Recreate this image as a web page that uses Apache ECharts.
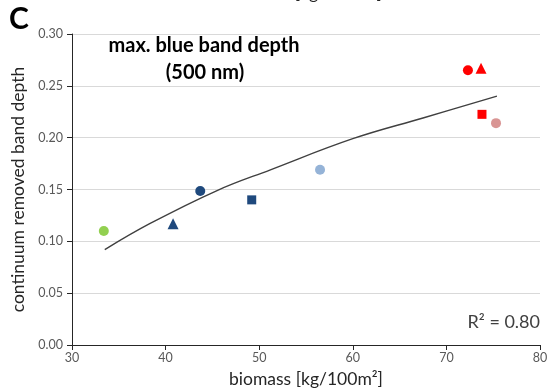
<!DOCTYPE html>
<html>
<head>
<meta charset="utf-8">
<script src="https://cdn.jsdelivr.net/npm/echarts@6/dist/echarts.min.js"></script>
<style>
  html, body { margin: 0; padding: 0; background: #fff; }
  #chart { width: 549px; height: 391px; }
</style>
</head>
<body>
<div id="chart"></div>
<script>
// measured samples
const biomass   = [33.4, 40.8, 43.7, 49.2, 56.5, 72.3, 73.7, 73.8, 75.3];
const bandDepth = [0.110, 0.117, 0.1485, 0.140, 0.169, 0.265, 0.267, 0.2225, 0.214];

// trend line
const trendX = [33.5, 38.3, 45.5, 51.2, 60.0, 67.5, 75.4];
const trendY = [0.092, 0.117, 0.149, 0.169, 0.199, 0.219, 0.240];

const xTicks = [30, 40, 50, 60, 70, 80];
const yTicks = [0.00, 0.05, 0.10, 0.15, 0.20, 0.25, 0.30];
const r2Label = 'R² = 0.80';

// marker look per sample
const shapes = ['circle', 'triangle', 'circle', 'rect', 'circle', 'circle', 'triangle', 'rect', 'circle'];
const colors = ['#92d050', '#1f497d', '#1f497d', '#1f497d', '#95b3d7', '#ff0000', '#ff0000', '#ff0000', '#d99594'];

const font = 'Lato, "Open Sans", sans-serif';
const chart = echarts.init(document.getElementById('chart'));

chart.setOption({
    animation: false,
    grid: { left: 72, right: 9, top: 34, bottom: 46, outerBoundsMode: 'none' },
    xAxis: {
        type: 'value',
        min: xTicks[0],
        max: xTicks[xTicks.length - 1],
        interval: 10,
        name: 'biomass [kg/100m²]',
        nameLocation: 'middle',
        nameGap: 25,
        nameTextStyle: { fontFamily: font, fontSize: 17.5, color: '#262626' },
        axisLine: { lineStyle: { color: '#262626', width: 1 } },
        axisTick: { show: true, length: 5, lineStyle: { color: '#262626' } },
        axisLabel: { fontFamily: font, fontSize: 12.5, color: '#595959', margin: 6 },
        splitLine: { show: false }
    },
    yAxis: {
        type: 'value',
        min: yTicks[0],
        max: yTicks[yTicks.length - 1],
        interval: 0.05,
        name: 'continuum removed band depth',
        nameLocation: 'middle',
        nameGap: 41,
        nameTextStyle: { fontFamily: font, fontSize: 17.5, color: '#262626' },
        axisLine: { show: true, lineStyle: { color: '#262626', width: 1 } },
        axisTick: { show: true, length: 5, lineStyle: { color: '#262626' } },
        axisLabel: {
            fontFamily: font, fontSize: 12.5, color: '#595959', margin: 9,
            formatter: v => v.toFixed(2)
        },
        splitLine: { show: true, lineStyle: { color: '#d9d9d9', width: 1 } }
    },
    series: [
        {
            type: 'line',
            smooth: 0.4,
            showSymbol: false,
            data: trendX.map((x, i) => [x, trendY[i]]),
            lineStyle: { color: '#404040', width: 1.4 },
            z: 2
        },
        {
            type: 'scatter',
            data: biomass.map((x, i) => ({
                value: [x, bandDepth[i]],
                symbol: shapes[i],
                symbolSize: shapes[i] === 'rect' ? 9 : (shapes[i] === 'triangle' ? 11 : 10),
                itemStyle: { color: colors[i], opacity: 1 }
            })),
            z: 3
        }
    ],
    graphic: [
        {
            type: 'text', left: 9, top: 4,
            style: { text: 'C', font: 'bold 30px ' + font, fill: '#000' }
        },
        {
            type: 'text', x: 305, y: 2,
            style: {
                text: 'biomass [kg/100m²]', font: '17.5px ' + font, fill: '#262626',
                textAlign: 'center', textVerticalAlign: 'bottom'
            }
        },
        {
            type: 'text', x: 204, y: 46,
            style: {
                text: 'max. blue band depth', font: 'bold 20px ' + font, fill: '#000',
                textAlign: 'center', textVerticalAlign: 'middle'
            }
        },
        {
            type: 'text', x: 205, y: 73,
            style: {
                text: '(500 nm)', font: 'bold 20px ' + font, fill: '#000',
                textAlign: 'center', textVerticalAlign: 'middle'
            }
        },
        {
            type: 'text', x: 540, y: 322,
            style: {
                text: r2Label, font: '18px ' + font, fill: '#404040',
                textAlign: 'right', textVerticalAlign: 'middle'
            }
        }
    ]
});
</script>
</body>
</html>
